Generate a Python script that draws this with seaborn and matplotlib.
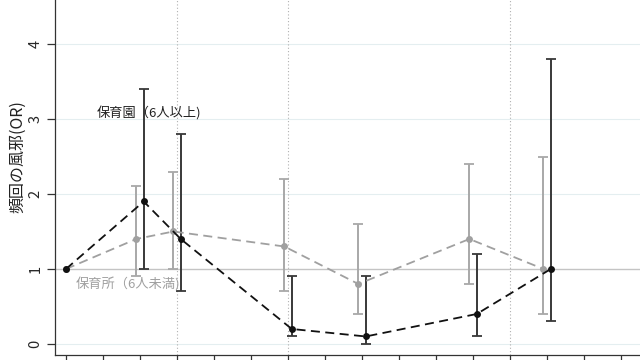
import matplotlib
matplotlib.use("Agg")
import matplotlib.pyplot as plt
import seaborn as sns
import pandas as pd

# Data
x_base = [0, 2, 3, 6, 8, 11, 13]
center_or = [1.0, 1.9, 1.4, 0.2, 0.1, 0.4, 1.0]      # 保育園（6人以上)
center_lo = [None, 1.0, 0.7, 0.1, 0.0, 0.1, 0.3]
center_hi = [None, 3.4, 2.8, 0.9, 0.9, 1.2, 3.8]
nursery_or = [1.0, 1.4, 1.5, 1.3, 0.8, 1.4, 1.0]     # 保育所（6人未満)
nursery_lo = [None, 0.9, 1.0, 0.7, 0.4, 0.8, 0.4]
nursery_hi = [None, 2.1, 2.3, 2.2, 1.6, 2.4, 2.5]
offset_center = [0, 0.1, 0.1, 0.1, 0.1, 0.1, 0.1]
offset_nursery = [0, -0.1, -0.1, -0.1, -0.1, -0.1, -0.1]
x_ticks = list(range(16))
y_ticks = [0, 1, 2, 3, 4]
vlines = [3, 6, 12]

sns.set_theme(style="white")
plt.rcParams['font.family'] = ['Noto Sans CJK JP', 'DejaVu Sans']

xc = [b + o for b, o in zip(x_base, offset_center)]
xn = [b + o for b, o in zip(x_base, offset_nursery)]
df = pd.DataFrame({
    "x": xc + xn,
    "OR": center_or + nursery_or,
    "group": ["center"] * len(xc) + ["nursery"] * len(xn),
})

fig = plt.figure(figsize=(6.4, 3.6), dpi=100)
ax = fig.add_axes([55/640, 5/360, 585/640, 355/360])

# grid lines
for yv in y_ticks:
    if yv != 1:
        ax.axhline(yv, color="#e4eef0", lw=0.8, zorder=0)
ax.axhline(1, color="#c4c4c4", lw=1.0, zorder=1)
for xv in vlines:
    ax.axvline(xv, color="#b0b0b0", lw=0.8, ls=(0, (1, 2)), zorder=1)

# error bars
for xi, lo, hi in zip(xn, nursery_lo, nursery_hi):
    if lo is None:
        continue
    ax.errorbar([xi], [(lo + hi) / 2], yerr=[[(hi - lo) / 2], [(hi - lo) / 2]],
                fmt="none", ecolor="#a8a8a8", elinewidth=1.4, capsize=3.5, capthick=1.3, zorder=2)
for xi, lo, hi in zip(xc, center_lo, center_hi):
    if lo is None:
        continue
    ax.errorbar([xi], [(lo + hi) / 2], yerr=[[(hi - lo) / 2], [(hi - lo) / 2]],
                fmt="none", ecolor="#383838", elinewidth=1.4, capsize=3.5, capthick=1.3, zorder=3)

sns.lineplot(data=df[df.group == "nursery"], x="x", y="OR", ax=ax, color="#a0a0a0",
             lw=1.3, marker="o", markersize=5, markeredgewidth=0, sort=False,
             dashes=False, zorder=4, estimator=None)
sns.lineplot(data=df[df.group == "center"], x="x", y="OR", ax=ax, color="#111111",
             lw=1.3, marker="o", markersize=5, markeredgewidth=0, sort=False,
             dashes=False, zorder=5, estimator=None)
for line in ax.get_lines()[-2:]:
    line.set_dashes([5, 3])

ax.text(0.83, 3.08, "保育園（6人以上)", fontsize=9.5, color="#222222", ha="left", va="center")
ax.text(0.25, 0.79, "保育所（6人未満)", fontsize=9.5, color="#a0a0a0", ha="left", va="center")

ax.set_xlim(-0.297, 15.51)
ax.set_ylim(-0.147, 4.587)
ax.set_xticks(x_ticks)
ax.set_xticklabels([])
ax.set_yticks(y_ticks)
ax.set_yticklabels([str(v) for v in y_ticks], rotation=90, va="center", fontsize=10.5)
ax.tick_params(axis="both", direction="out", length=6, width=0.9, color="#333333",
               left=True, bottom=True)
ax.tick_params(axis="y", pad=3)
ax.set_xlabel("")
ax.set_ylabel("")
for s in ["top", "right"]:
    ax.spines[s].set_visible(False)
for s in ["left", "bottom"]:
    ax.spines[s].set_color("#333333")
    ax.spines[s].set_linewidth(0.9)

fig.text(18/640, 1 - 157/360, "頻回の風邪(OR)", rotation=90, ha="center", va="center",
         fontsize=11.5, color="#222222")

fig.savefig("out.png", dpi=100)
